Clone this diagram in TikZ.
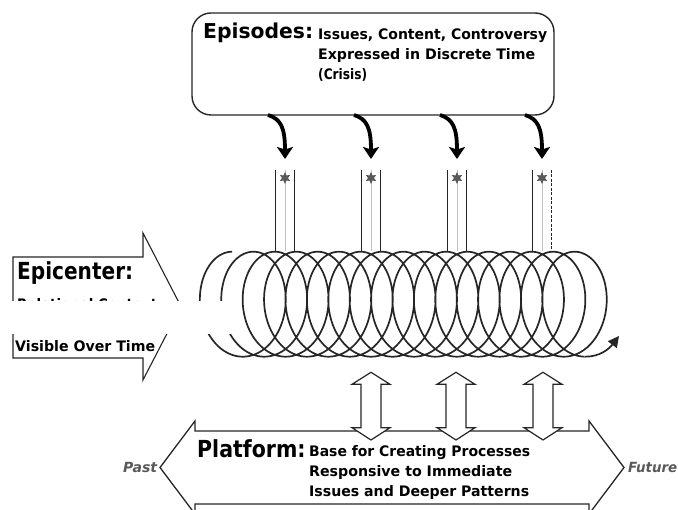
\documentclass[tikz,border=0pt]{standalone}
\usepackage{fontspec}
\setmainfont{DejaVu Sans}
\usepackage{graphicx}
\usetikzlibrary{arrows.meta,shapes.geometric}
\newsavebox\fitbox
\newlength\fitlen
\newcommand\fitto[2]{\sbox\fitbox{#2}\setlength\fitlen{\wd\fitbox}\pgfmathsetmacro\fitfac{#1/\fitlen}\scalebox{\fitfac}[1]{\usebox\fitbox}}
\begin{document}
\begin{tikzpicture}[x=1pt,y=-1pt,
  txt/.style={anchor=base west, inner sep=0pt, font=\bfseries\fontsize{14.5}{16}\selectfont},
  bigtxt/.style={anchor=base west, inner sep=0pt, font=\bfseries\fontsize{22}{24}\selectfont},
  timetxt/.style={anchor=base west, inner sep=0pt, text=black!65, font=\bfseries\itshape\fontsize{14}{16}\selectfont},
  outline/.style={draw=black!85, fill=white, line width=1.1pt, line join=miter},
  bentarrow/.style={line width=3.8pt, -{Stealth[length=12pt,width=16pt,inset=2.5pt]}},
  coilline/.style={draw=black!85, line width=1.7pt},
  post/.style={draw=black!85, line width=1pt},
  postmid/.style={draw=black!25, line width=0.9pt},
  spark/.style={star, star points=6, star point ratio=2.0, fill=black!65, inner sep=0pt, minimum size=12pt}]
\useasboundingbox (0,0) rectangle (678,510);

% Episodes box
\node (episodes) [draw=black!85, line width=1.4pt, rounded corners=19pt, fill=white,
  minimum width=362pt, minimum height=102pt, inner sep=0pt] at (373,64) {};
\node (eptitle) [bigtxt, font=\bfseries\fontsize{20.5}{22}\selectfont] at (203,39) {\fitto{110}{Episodes:}};
\node (ep1) [txt] at (318,40) {\fitto{229}{Issues, Content, Controversy}};
\node (ep2) [txt] at (318,60) {\fitto{217}{Expressed in Discrete Time}};
\node (ep3) [txt] at (318,80) {\fitto{49}{(Crisis)}};

% bent arrows and posts
\foreach \i/\x in {1/285,2/371,3/457,4/542}{
  \coordinate (as\i) at (\x-17,115);
  \coordinate (ae\i) at (\x,159);
  \draw[bentarrow] (as\i) .. controls (\x-4,119) and (\x,128) .. (ae\i);
  \coordinate (pt\i) at (\x,170);
  \coordinate (pb\i) at (\x,251);
  \draw[postmid] (pt\i) -- (pb\i);
  \draw[post] ([xshift=-9.7pt]pt\i) -- ([xshift=-9.7pt]pb\i);
  \node (star\i) [spark] at (\x,178) {};
}
\foreach \i in {1,2,3}{
  \draw[post] ([xshift=9.7pt]pt\i) -- ([xshift=9.7pt]pb\i);
}
\draw[post, dashed, dash pattern=on 3pt off 1.5pt] ([xshift=9.7pt]pt4) -- ([xshift=9.7pt]pb4);

% Epicenter arrow
\draw[outline] (13,257) -- (143,257) -- (143,233) -- (181,306.5) -- (143,380) -- (143,358) -- (13,358) -- cycle;
\node (epititle) [bigtxt, font=\bfseries\fontsize{23.5}{25}\selectfont] at (17,280) {\fitto{116}{Epicenter:}};
\node (epirel) [txt] at (17,310) {\fitto{140}{Relational Context}};
\node (epivis) [txt] at (15,352) {\fitto{140}{Visible Over Time}};

% coil
\draw[coilline] plot[domain=pi:34*pi, samples=1500] ({221.4+3.406*\x+37.45*sin(\x r)}, {304.2+52.5*cos(\x r)});
\coordinate (coilend) at (585.2,356.7);
\coordinate (tailtip) at (619,336);
\draw[coilline, -{Triangle[length=11pt,width=11pt]}] (coilend) .. controls (600,356.7) and (609,349) .. (tailtip);

% white band
\fill[white] (0,301) rectangle (238,334);

% Platform arrow
\draw[outline, line width=1.3pt] (160,467.5) -- (195,421) -- (195,431) -- (589,431) -- (589,421) -- (624,467.5)
  -- (589,514) -- (589,504) -- (195,504) -- (195,514) -- cycle;
\node (pltitle) [bigtxt, font=\bfseries\fontsize{23.5}{25}\selectfont] at (197,458) {\fitto{108.5}{Platform:}};
\node (pl1) [txt] at (309,457) {\fitto{221}{Base for Creating Processes}};
\node (pl2) [txt] at (309,477) {\fitto{203}{Responsive to Immediate}};
\node (pl3) [txt] at (309,497) {\fitto{220}{Issues and Deeper Patterns}};
\node (past) [timetxt] at (123,473) {\fitto{34}{Past}};
\node (future) [timetxt] at (628,473) {\fitto{49}{Future}};

% vertical double arrows
\foreach \i/\c in {1/371,2/456,3/543}{
  \draw[outline, line width=1.2pt] (\c,372.3) -- (\c+19,384.3) -- (\c+10,384.3) -- (\c+10,427.7) -- (\c+19,427.7)
    -- (\c,440) -- (\c-19,427.7) -- (\c-10,427.7) -- (\c-10,384.3) -- (\c-19,384.3) -- cycle;
}
\end{tikzpicture}
\end{document}
